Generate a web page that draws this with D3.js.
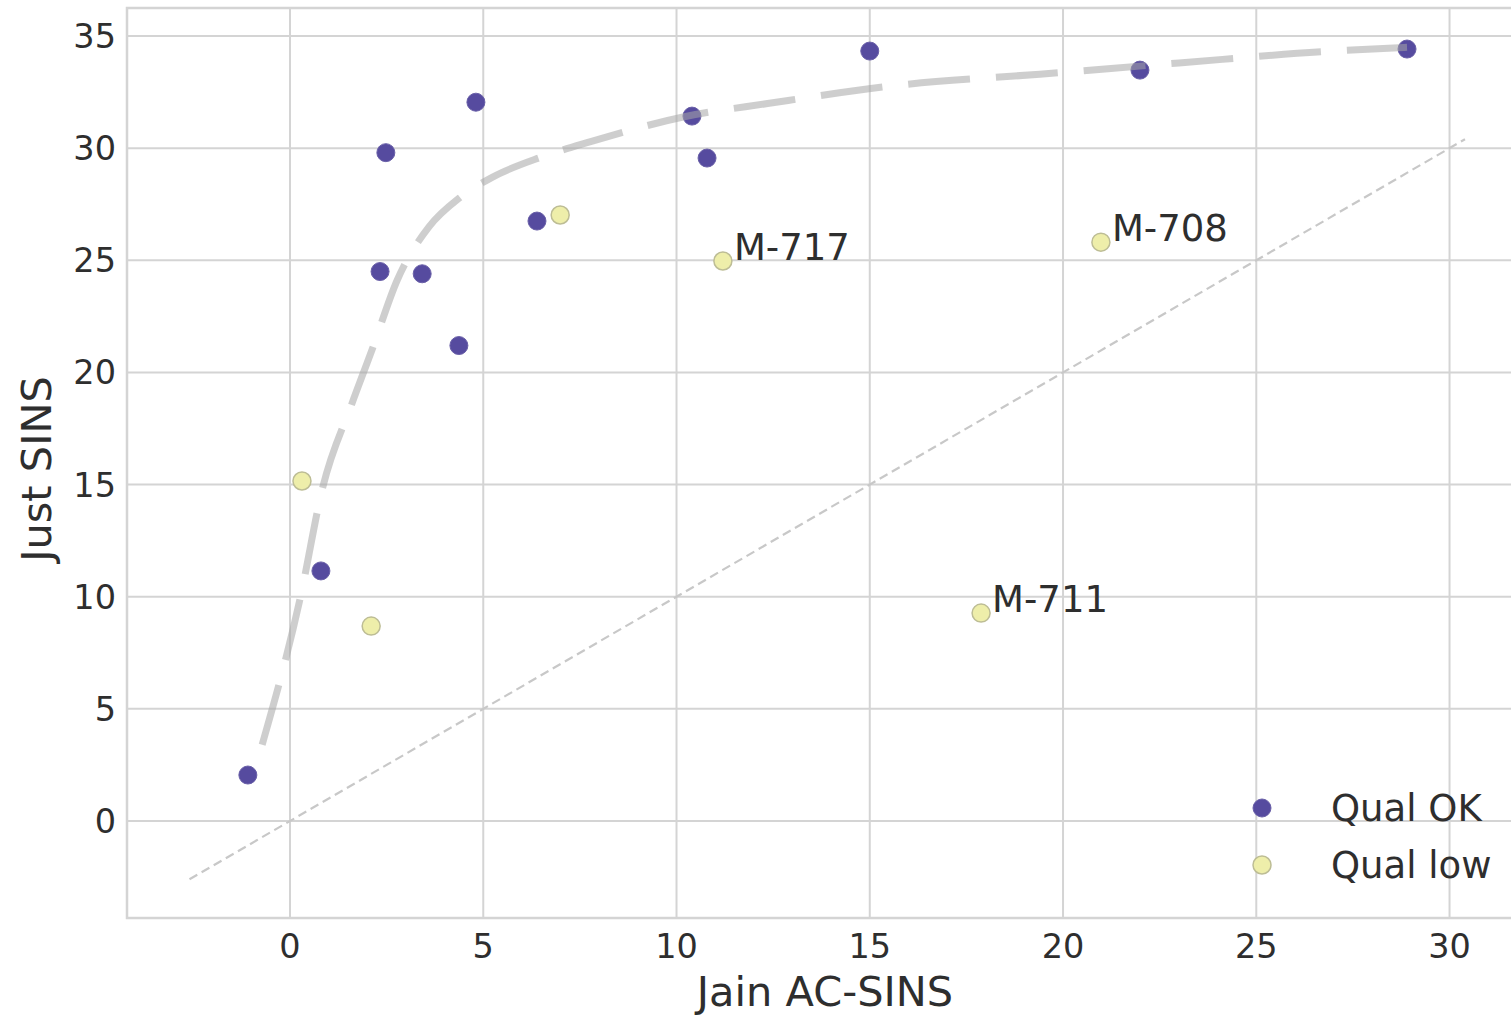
<!DOCTYPE html>
<html><head><meta charset="utf-8">
<script src="https://cdn.jsdelivr.net/npm/d3@7"></script>
<style>html,body{margin:0;padding:0;background:#fff;} text{font-family:"DejaVu Sans",sans-serif;fill:#2e2e2e;}</style>
</head><body>
<svg id="c" width="1511" height="1015"></svg>
<script>
const xTicks = [0, 5, 10, 15, 20, 25, 30];
const yTicks = [0, 5, 10, 15, 20, 25, 30, 35];
const okX = [-1.09, 0.80, 2.33, 2.48, 3.42, 4.37, 4.81, 6.39, 10.40, 10.79, 15.0, 21.99, 28.9];
const okY = [2.05, 11.15, 24.5, 29.8, 24.4, 21.2, 32.05, 26.75, 31.43, 29.56, 34.33, 33.48, 34.42];
const lowX = [0.31, 2.10, 6.99, 11.2, 17.88, 20.98];
const lowY = [15.16, 8.69, 27.02, 24.97, 9.27, 25.81];
const lowLabels = ["", "", "", "M-717", "M-711", "M-708"];
const fitX = [-0.72, 0.26, 0.85, 1.6, 2.12, 2.77, 3.6, 4.4, 5.23, 6.5, 7.8, 10.2, 12.4, 15.7, 19.4, 23.0, 26.7, 28.9];
const fitY = [3.4, 9.9, 14.9, 18.6, 21.0, 24.1, 26.5, 27.8, 28.7, 29.6, 30.3, 31.4, 32.0, 32.8, 33.3, 33.8, 34.3, 34.5];
const diag = [-2.6, 30.4];
const legendLabels = ["Qual OK", "Qual low"];
const colors = {ok: "#564b9f", low: "#eeeeaa"};

const L = 127, R = 1511, T = 8, B = 918;
const svg = d3.select("#c");
const x = d3.scaleLinear().domain([-4.217, 31.59]).range([L, R]);
const y = d3.scaleLinear().domain([-4.325, 36.25]).range([B, T]);

// grid
const g = svg.append("g");
g.selectAll(".vx").data(xTicks).enter().append("line")
  .attr("x1", d => x(d)).attr("x2", d => x(d)).attr("y1", T).attr("y2", B)
  .attr("stroke", "#d4d4d4").attr("stroke-width", 2);
g.selectAll(".hy").data(yTicks).enter().append("line")
  .attr("y1", d => y(d)).attr("y2", d => y(d)).attr("x1", L).attr("x2", R)
  .attr("stroke", "#d4d4d4").attr("stroke-width", 2);
svg.append("rect").attr("x", L).attr("y", T).attr("width", R - L + 2).attr("height", B - T)
  .attr("fill", "none").attr("stroke", "#d4d4d4").attr("stroke-width", 2.5);

// ticks labels
svg.selectAll(".xt").data(xTicks).enter().append("text")
  .attr("x", d => x(d)).attr("y", 958).attr("text-anchor", "middle")
  .attr("font-size", 33.5).text(d => d);
svg.selectAll(".yt").data(yTicks).enter().append("text")
  .attr("x", 116).attr("y", d => y(d) + 12).attr("text-anchor", "end")
  .attr("font-size", 33.5).text(d => d);

// axis labels
svg.append("text").attr("x", 825).attr("y", 1006).attr("text-anchor", "middle")
  .attr("font-size", 41.5).text("Jain AC-SINS");
svg.append("text").attr("transform", "translate(51,469) rotate(-90)").attr("text-anchor", "middle")
  .attr("font-size", 41.5).text("Just SINS");

// diagonal y=x
svg.append("line").attr("x1", x(diag[0])).attr("y1", y(diag[0])).attr("x2", x(diag[1])).attr("y2", y(diag[1]))
  .attr("stroke", "#c8c8c8").attr("stroke-width", 2.2).attr("stroke-dasharray", "9 5");

// points
const ok = okX.map((v, i) => ({x: v, y: okY[i]}));
const low = lowX.map((v, i) => ({x: v, y: lowY[i], label: lowLabels[i]}));
svg.selectAll(".ok").data(ok).enter().append("circle")
  .attr("cx", d => x(d.x)).attr("cy", d => y(d.y)).attr("r", 9)
  .attr("fill", colors.ok).attr("stroke", "#6a60a8").attr("stroke-width", 1);
svg.selectAll(".low").data(low).enter().append("circle")
  .attr("cx", d => x(d.x)).attr("cy", d => y(d.y)).attr("r", 9)
  .attr("fill", colors.low).attr("stroke", "#bdbd95").attr("stroke-width", 1.5);
svg.selectAll(".lab").data(low.filter(d => d.label)).enter().append("text")
  .attr("x", d => x(d.x) + 11).attr("y", d => y(d.y) - 1).attr("font-size", 37).text(d => d.label);

// fit curve
const fit = fitX.map((v, i) => [v, fitY[i]]);
svg.append("path").datum(fit)
  .attr("d", d3.line().x(d => x(d[0])).y(d => y(d[1])).curve(d3.curveMonotoneX))
  .attr("fill", "none").attr("stroke", "#a6a6a6").attr("stroke-opacity", 0.55)
  .attr("stroke-width", 7).attr("stroke-dasharray", "62 26");

// legend
const lg = svg.append("g");
legendLabels.forEach((t, i) => {
  const cy = 808 + i * 57;
  lg.append("circle").attr("cx", 1262).attr("cy", cy).attr("r", 9)
    .attr("fill", i === 0 ? colors.ok : colors.low)
    .attr("stroke", i === 0 ? "#6a60a8" : "#bdbd95").attr("stroke-width", i === 0 ? 1 : 1.5);
  lg.append("text").attr("x", 1331).attr("y", cy + 13).attr("font-size", 37).text(t);
});
</script>
</body></html>
